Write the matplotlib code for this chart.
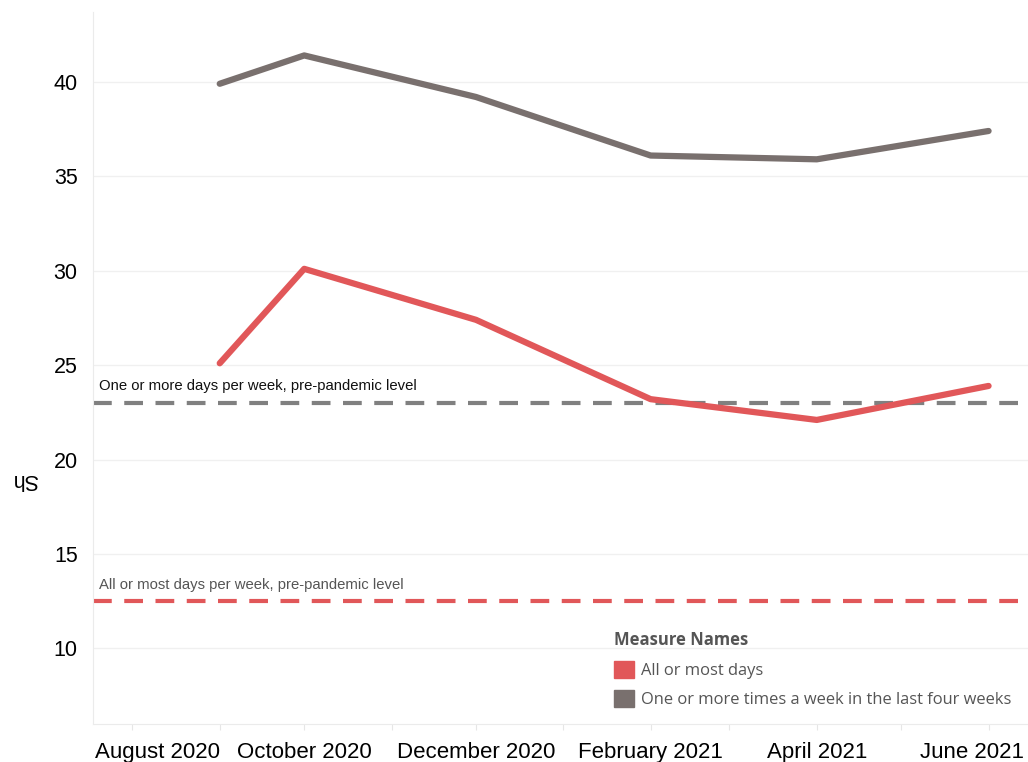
import numpy as np
import pandas as pd
import matplotlib
matplotlib.use('Agg')
import matplotlib.pyplot as plt
import matplotlib.dates as mdates
import matplotlib.transforms as mtransforms
from matplotlib.patches import Patch

# data
dates = pd.to_datetime(['2020-09-01', '2020-10-01', '2020-12-01',
                        '2021-02-01', '2021-04-01', '2021-06-01'])
all_or_most = [25.1, 30.1, 27.4, 23.2, 22.1, 23.9]
one_or_more = [39.9, 41.4, 39.2, 36.1, 35.9, 37.4]
pre_one_or_more = 23.0
pre_all_or_most = 12.5

tick_months = pd.date_range('2020-08-01', '2021-06-01', freq='MS')
tick_labels = ['August 2020', '', 'October 2020', '', 'December 2020', '',
               'February 2021', '', 'April 2021', '', 'June 2021']

red = '#e15759'
grey = '#79706e'

plt.rcParams['font.family'] = ['Liberation Sans', 'DejaVu Sans']

fig = plt.figure(figsize=(10.28, 7.62), dpi=100)
ax = fig.add_axes([93 / 1028, 38 / 762, 1 - 93 / 1028, 712 / 762])

ax.plot(dates, one_or_more, color=grey, lw=4.5, solid_capstyle='round', zorder=3)
ax.plot(dates, all_or_most, color=red, lw=4.5, solid_capstyle='round', zorder=3)

ax.axhline(pre_one_or_more, color='#808080', lw=3, dashes=(4.5, 3), zorder=2)
ax.axhline(pre_all_or_most, color=red, lw=3, dashes=(4.5, 3), zorder=2)

xmin = pd.Timestamp('2020-07-18')
ax.text(xmin + pd.Timedelta(days=2), pre_one_or_more + 0.5,
        'One or more days per week, pre-pandemic level',
        fontsize=10.7, color='#111111', va='bottom')
ax.text(xmin + pd.Timedelta(days=2), pre_all_or_most + 0.5,
        'All or most days per week, pre-pandemic level',
        fontsize=10.7, color='#555555', va='bottom')

ax.set_xlim(xmin, pd.Timestamp('2021-06-15'))
ax.set_ylim(6.0, 43.7)
ax.set_yticks([10, 15, 20, 25, 30, 35, 40])
ax.tick_params(axis='y', length=0, labelsize=15.5, pad=11)
ax.set_xticks(tick_months)
ax.set_xticklabels(tick_labels, fontsize=16)
ax.tick_params(axis='x', length=4, color='#e6e6e6', pad=9)
# first and last labels are nudged inwards like in the original
labels = ax.get_xticklabels()
for lbl, dx in [(labels[0], 0.25), (labels[-1], -0.17)]:
    off = mtransforms.ScaledTranslation(dx, 0, fig.dpi_scale_trans)
    lbl.set_transform(lbl.get_transform() + off)

ax.grid(axis='y', color='#f0f0f0', lw=1)
ax.set_axisbelow(True)
for s in ['top', 'right']:
    ax.spines[s].set_visible(False)
ax.spines['left'].set_color('#ebebeb')
ax.spines['bottom'].set_color('#ebebeb')

fig.text(25 / 1028, 1 - 480 / 762, 'Sh', rotation=180, fontsize=15.5,
         ha='center', va='center')

handles = [Patch(color=red, label='All or most days'),
           Patch(color=grey, label='One or more times a week in the last four weeks')]
leg = ax.legend(handles=handles, title='Measure Names', loc='upper left',
                bbox_to_anchor=(614 / 1028, 1 - 631 / 762),
                bbox_transform=fig.transFigure, frameon=False,
                prop={'family': 'Open Sans', 'size': 11.9},
                title_fontproperties={'family': 'Open Sans', 'size': 12, 'weight': 'bold'},
                alignment='left', handlelength=1.2, handleheight=1.2,
                handletextpad=0.45, labelspacing=0.7, borderaxespad=0,
                borderpad=0)
for t in leg.get_texts():
    t.set_color('#555555')
leg.get_title().set_color('#555555')

fig.savefig('out.png', dpi=100)
